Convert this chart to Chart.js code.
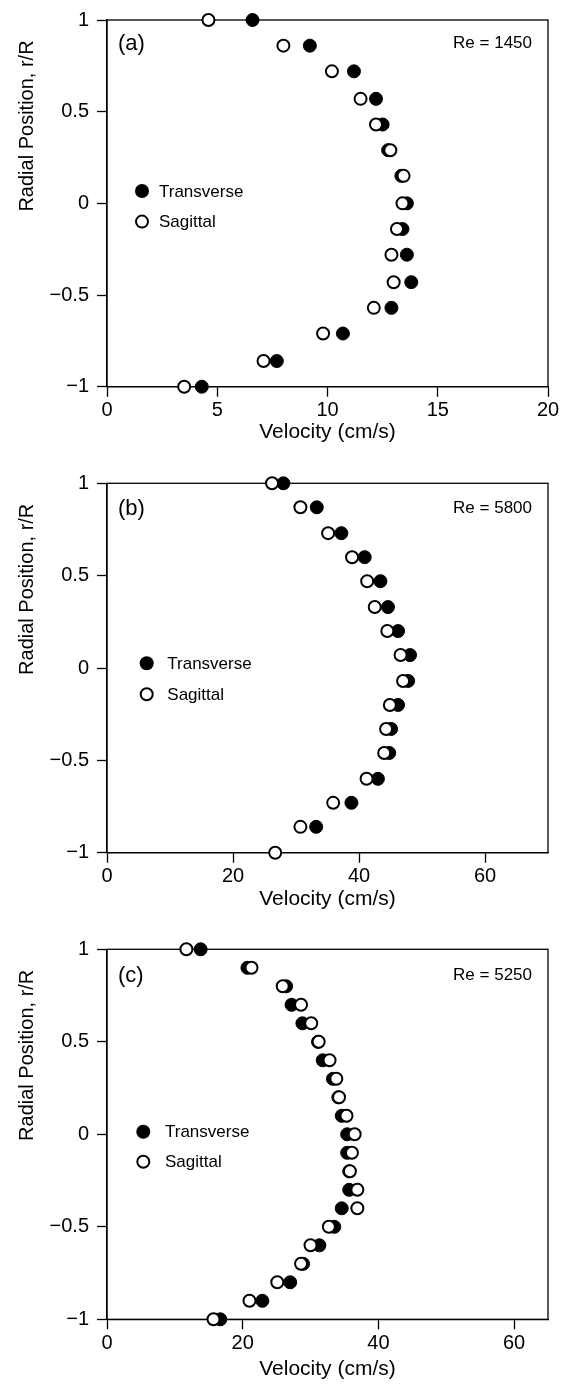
<!DOCTYPE html>
<html>
<head>
<meta charset="utf-8">
<title>Velocity profiles</title>
<script src="https://cdn.jsdelivr.net/npm/chart.js@4.4.1/dist/chart.umd.min.js"></script>
<style>
  html, body { margin: 0; padding: 0; background: #fff; }
  body { width: 570px; height: 1389px; position: relative; overflow: hidden; }
  .panel { position: absolute; left: 0; width: 570px; height: 463px; }
</style>
</head>
<body>
<div class="panel" style="top:0"><canvas id="chartA"></canvas></div>
<div class="panel" style="top:463px"><canvas id="chartB"></canvas></div>
<div class="panel" style="top:926px"><canvas id="chartC"></canvas></div>

<script>
'use strict';

/* ── DATA ─────────────────────────────────────────────────── */
// (a) Re = 1450
const radialA     = [1, 0.86, 0.72, 0.57, 0.43, 0.29, 0.15, 0, -0.14, -0.28, -0.43, -0.57, -0.71, -0.86, -1];
const transverseA = [6.6, 9.2, 11.2, 12.2, 12.5, 12.75, 13.35, 13.6, 13.4, 13.6, 13.8, 12.9, 10.7, 7.7, 4.3];
const sagittalA   = [4.6, 8.0, 10.2, 11.5, 12.2, 12.85, 13.45, 13.4, 13.15, 12.9, 13.0, 12.1, 9.8, 7.1, 3.5];
const xTicksA     = [0, 5, 10, 15, 20];

// (b) Re = 5800
const radialB     = [1, 0.87, 0.73, 0.6, 0.47, 0.33, 0.2, 0.07, -0.07, -0.2, -0.33, -0.46, -0.6, -0.73, -0.86, -1];
const transverseB = [28.0, 33.3, 37.2, 40.9, 43.4, 44.6, 46.2, 48.1, 47.8, 46.2, 45.1, 44.8, 43.0, 38.8, 33.2, null];
const sagittalB   = [26.2, 30.7, 35.1, 38.9, 41.3, 42.5, 44.5, 46.6, 47.0, 44.9, 44.3, 44.0, 41.2, 35.9, 30.7, 26.7];
const xTicksB     = [0, 20, 40, 60];

// (c) Re = 5250
const radialC     = [1, 0.9, 0.8, 0.7, 0.6, 0.5, 0.4, 0.3, 0.2, 0.1, 0, -0.1, -0.2, -0.3, -0.4, -0.5, -0.6, -0.7, -0.8, -0.9, -1];
const transverseC = [13.8, 20.7, 26.4, 27.2, 28.8, 31.1, 31.8, 33.3, 34.1, 34.6, 35.4, 35.4, 35.7, 35.7, 34.6, 33.5, 31.3, 28.9, 27.0, 22.9, 16.7];
const sagittalC   = [11.7, 21.3, 25.9, 28.6, 30.1, 31.2, 32.8, 33.8, 34.2, 35.3, 36.5, 36.1, 35.8, 36.9, 36.9, 32.7, 30.0, 28.6, 25.1, 21.0, 15.7];
const xTicksC     = [0, 20, 40, 60];

const yTicks      = [1, 0.5, 0, -0.5, -1];
const seriesNames = ['Transverse', 'Sagittal'];

/* ── STYLE ────────────────────────────────────────────────── */
const FONT = "'Liberation Sans', Arial, Helvetica, sans-serif";
const INK  = '#000';

const toPoints = (xs, ys) => xs.map((x, i) => ({ x, y: ys[i] })).filter(p => p.x !== null);
const fmtTick  = v => (v < 0 ? '\u2212' + Math.abs(v) : String(v));

// frame + annotations drawn by hand inside the plot area
const panelDecor = {
  id: 'panelDecor',
  beforeDatasetsDraw(chart) {
    const { ctx, chartArea: a } = chart;
    ctx.save();
    ctx.strokeStyle = INK;
    ctx.lineWidth = 1.3;
    ctx.strokeRect(a.left, a.top, a.right - a.left, a.bottom - a.top);
    ctx.restore();
  },
  afterDraw(chart, args, o) {
    const { ctx, chartArea: a } = chart;
    ctx.save();
    ctx.fillStyle = INK;
    ctx.textBaseline = 'middle';

    // panel tag and Reynolds number
    ctx.font = `22px ${FONT}`;
    ctx.textAlign = 'left';
    ctx.fillText(o.tag, a.left + 11, a.top + o.tagDy);
    ctx.font = `17px ${FONT}`;
    ctx.textAlign = 'right';
    ctx.fillText(o.re, a.right - 16, a.top + o.tagDy - 1);

    // legend
    const lx = a.left + o.legX;
    o.legY.forEach((dy, i) => {
      const y = a.top + dy;
      ctx.beginPath();
      if (i === 0) {
        ctx.arc(lx, y, 7, 0, Math.PI * 2);
        ctx.fill();
      } else {
        ctx.arc(lx, y, 6, 0, Math.PI * 2);
        ctx.lineWidth = 2;
        ctx.strokeStyle = INK;
        ctx.stroke();
      }
      ctx.textAlign = 'left';
      ctx.font = `17px ${FONT}`;
      ctx.fillText(seriesNames[i], lx + o.legText, y + 1);
    });

    // y-axis title, sits in the upper half like the original
    ctx.translate(27, a.top + 106);
    ctx.rotate(-Math.PI / 2);
    ctx.textAlign = 'center';
    ctx.font = `20px ${FONT}`;
    ctx.fillText('Radial Position, r/R', 0, 0);
    ctx.restore();
  }
};

/* ── CHART FACTORY ────────────────────────────────────────── */
function makePanel(id, p) {
  const ctx = document.getElementById(id).getContext('2d');
  return new Chart(ctx, {
    type: 'scatter',
    data: {
      datasets: [
        {
          label: seriesNames[0],
          data: toPoints(p.transverse, p.radial),
          order: 1,
          clip: false,
          pointRadius: 6.5,
          pointBorderWidth: 1,
          pointBackgroundColor: INK,
          pointBorderColor: INK,
        },
        {
          label: seriesNames[1],
          data: toPoints(p.sagittal, p.radial),
          order: 0,
          clip: false,
          pointRadius: 6,
          pointBorderWidth: 2,
          pointBackgroundColor: '#fff',
          pointBorderColor: INK,
        }
      ]
    },
    options: {
      responsive: true,
      maintainAspectRatio: false,
      animation: false,
      events: [],
      layout: { padding: { top: p.padTop, right: 22, left: 0, bottom: 0 } },
      plugins: {
        legend: { display: false },
        tooltip: { enabled: false },
        panelDecor: p.decor,
      },
      scales: {
        x: {
          type: 'linear',
          position: 'bottom',
          min: 0,
          max: p.xMax,
          afterBuildTicks: s => { s.ticks = p.xTicks.map(v => ({ value: v })); },
          afterFit: s => { s.height = p.xScaleH; },
          grid: { drawOnChartArea: false, drawTicks: true, tickLength: 10, tickColor: INK, tickWidth: 1.3 },
          border: { display: true, color: INK, width: 1.3 },
          ticks: { color: INK, font: { family: FONT, size: 20 }, padding: 2, maxRotation: 0 },
          title: {
            display: true,
            text: 'Velocity (cm/s)',
            color: INK,
            font: { family: FONT, size: 21 },
            padding: { top: 0, bottom: p.titlePad },
          },
        },
        y: {
          type: 'linear',
          min: -1,
          max: 1,
          afterBuildTicks: s => { s.ticks = yTicks.map(v => ({ value: v })); },
          afterFit: s => { s.width = 107; },
          grid: { drawOnChartArea: false, drawTicks: true, tickLength: 10, tickColor: INK, tickWidth: 1.3 },
          border: { display: true, color: INK, width: 1.3 },
          ticks: { color: INK, font: { family: FONT, size: 20 }, padding: 8, callback: fmtTick },
        }
      }
    },
    plugins: [panelDecor]
  });
}

/* ── PANELS ───────────────────────────────────────────────── */
makePanel('chartA', {
  radial: radialA, transverse: transverseA, sagittal: sagittalA,
  xMax: 20, xTicks: xTicksA,
  padTop: 16.7, xScaleH: 76.3, titlePad: 18,
  decor: { tag: '(a)', re: 'Re = 1450', tagDy: 24, legX: 35, legY: [171, 201.6], legText: 17 },
});

makePanel('chartB', {
  radial: radialB, transverse: transverseB, sagittal: sagittalB,
  xMax: 70, xTicks: xTicksB,
  padTop: 20.3, xScaleH: 73.3, titlePad: 14,
  decor: { tag: '(b)', re: 'Re = 5800', tagDy: 26, legX: 39.7, legY: [180, 211], legText: 20.6 },
});

makePanel('chartC', {
  radial: radialC, transverse: transverseC, sagittal: sagittalC,
  xMax: 65, xTicks: xTicksC,
  padTop: 23.3, xScaleH: 69.7, titlePad: 7,
  decor: { tag: '(c)', re: 'Re = 5250', tagDy: 27, legX: 36.3, legY: [182.4, 212.4], legText: 21.7 },
});
</script>
</body>
</html>
